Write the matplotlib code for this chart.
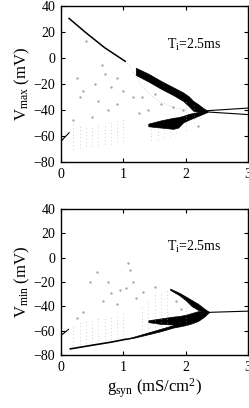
import numpy as np
import matplotlib
matplotlib.use("Agg")
import matplotlib.pyplot as plt

plt.rcParams['font.family'] = ['Liberation Serif', 'DejaVu Serif']
plt.rcParams['mathtext.fontset'] = 'custom'
plt.rcParams['mathtext.rm'] = 'Liberation Serif'
plt.rcParams['mathtext.it'] = 'Liberation Serif'

# ---------------- V_max panel data ----------------
max_line_g = [0.13, 0.4, 0.7, 1.03]
max_line_v = [30.5, 19.5, 8.0, -2.5]
max_stub_g = [0.0, 0.13]
max_stub_v = [-64.0, -57.5]

max_band_g = [1.2, 1.4, 1.6, 1.8, 1.96, 2.05, 2.12, 2.2, 2.28, 2.35]
max_band_hi = [-7.5, -12.0, -17.5, -22.5, -26.5, -29.5, -33.0, -35.5, -38.5, -40.5]
max_band_lo = [-13.0, -18.0, -23.5, -28.5, -33.0, -37.0, -40.5, -41.5, -41.5, -41.0]

max_body_g = [1.4, 1.6, 1.8, 1.88, 1.96, 2.05, 2.15, 2.25, 2.35]
max_body_hi = [-50.5, -48.0, -46.0, -45.5, -44.5, -43.0, -42.0, -41.5, -41.0]
max_body_lo = [-52.5, -53.5, -54.5, -53.5, -49.5, -47.5, -45.5, -43.5, -41.5]

max_tail_g = [2.35, 3.0]
max_tail_hi = [-40.5, -38.5]
max_tail_lo = [-41.5, -43.5]

max_faint_g = [1.03, 1.1, 1.2, 1.3, 1.45, 1.6, 1.8, 2.0]
max_faint_v = [-2.5, -6.0, -14.0, -22.0, -29.0, -34.0, -38.0, -40.0]

max_col_g = [0.2, 0.3, 0.4, 0.5, 0.6, 0.7, 0.8, 0.9, 1.0,
             1.45, 1.55, 1.65, 1.75, 1.85, 2.0, 2.13]
max_col_lo = [-70, -69, -68, -68, -67, -66, -66, -65, -64,
              -63, -62, -61, -60, -58, -55, -50]
max_col_hi = [-51, -52, -53, -52, -51, -50, -49, -48, -47,
              -53, -54, -54, -55, -55, -33, -36]

max_dot_g = [0.4, 0.35, 0.55, 0.7, 0.8, 0.9, 0.6, 0.75, 1.0, 0.9, 0.3, 0.5,
             0.2, 1.3, 1.5, 1.6, 1.4, 1.8, 1.95, 2.2, 0.25, 0.65, 1.15, 1.25]
max_dot_v = [13, -25, -20, -12, -22, -15, -33, -40, -25, -35, -30, -45,
             -48, -30, -28, -35, -40, -38, -40, -52, -15, -5, -30, -42]

# ---------------- V_min panel data ----------------
min_line_g = [0.15, 0.5, 0.8, 1.05]
min_line_v = [-75.0, -72.0, -69.5, -67.0]
min_stub_g = [0.0, 0.12]
min_stub_v = [-64.0, -59.0]

min_band_g = [1.05, 1.2, 1.4, 1.6, 1.8, 1.9]
min_band_lo = [-67.0, -65.5, -63.0, -60.5, -57.5, -56.5]
min_band_hi = [-66.5, -64.5, -61.5, -58.5, -55.5, -54.0]

min_body_g = [1.4, 1.6, 1.8, 1.9, 2.0, 2.1, 2.2, 2.3, 2.37]
min_body_lo = [-53.0, -54.5, -55.0, -56.5, -55.5, -54.0, -52.0, -48.5, -45.0]
min_body_hi = [-51.5, -50.0, -48.5, -48.0, -47.0, -45.5, -44.0, -44.0, -44.5]

min_arm_g = [1.75, 1.9, 2.0, 2.1, 2.2, 2.3, 2.37]
min_arm_hi = [-25.5, -29.0, -32.0, -35.0, -38.0, -42.0, -44.5]
min_arm_lo = [-26.5, -31.0, -35.0, -40.0, -43.0, -44.5, -45.0]

min_tail_g = [2.37, 3.0]
min_tail_v = [-45.0, -44.0]

min_col_g = [0.2, 0.3, 0.4, 0.5, 0.6, 0.7, 0.8, 0.9, 1.0,
             1.3, 1.4, 1.5, 1.6, 1.7, 2.0]
min_col_lo = [-72, -71, -70, -69, -68, -68, -67, -66, -66,
              -62, -58, -57, -56, -54, -55]
min_col_hi = [-55, -53, -52, -51, -50, -49, -48, -47, -45,
              -40, -35, -28, -30, -27, -38]

min_dot_g = [0.57, 0.47, 0.68, 0.81, 0.95, 1.05, 1.32, 1.51, 1.08, 1.1,
             0.35, 0.9, 0.75, 1.2, 1.85, 1.92, 0.25, 1.15]
min_dot_v = [-11.5, -19.7, -36, -29, -27, -25, -28, -24, -4.6, -10,
             -45, -38, -20, -33, -36, -42, -50, -20]

ti_label = r'T$_\mathrm{i}$=2.5ms'


def style_axes(ax):
    ax.set_xlim(0, 3)
    ax.set_ylim(-80, 40)
    ax.set_xticks([0, 1, 2, 3])
    ax.set_yticks([-80, -60, -40, -20, 0, 20, 40])
    ax.tick_params(direction='in', top=True, right=True, length=3,
                   width=0.8, labelsize=10, pad=4)
    for s in ax.spines.values():
        s.set_linewidth(1.0)


fig = plt.figure(figsize=(2.49, 4.08), dpi=100)
ax1 = fig.add_axes([0.245, 0.603, 0.751, 0.382])
ax2 = fig.add_axes([0.245, 0.130, 0.751, 0.358])

grey = '#a8a8a8'
dots = (0, (1, 4))

# top panel
ax1.vlines(max_col_g, max_col_lo, max_col_hi, colors=grey, linewidth=0.5,
           linestyles=dots)
ax1.plot(max_faint_g, max_faint_v, color=grey, lw=0.5, ls=(0, (1, 3)))
ax1.plot(max_dot_g, max_dot_v, ls='none', marker='s', ms=0.7, color=grey)
ax1.plot(max_line_g, max_line_v, color='k', lw=1.1)
ax1.plot(max_stub_g, max_stub_v, color='k', lw=0.8)
ax1.fill_between(max_band_g, max_band_lo, max_band_hi, color='k', lw=0.5)
ax1.fill_between(max_body_g, max_body_lo, max_body_hi, color='k', lw=0.5)
ax1.plot(max_tail_g, max_tail_hi, color='k', lw=0.8)
ax1.plot(max_tail_g, max_tail_lo, color='k', lw=0.8)
ax1.text(1.7, 10, ti_label, fontsize=10, va='center')
style_axes(ax1)
ax1.set_ylabel(r'V$_\mathrm{max}$ (mV)', fontsize=12, labelpad=1)

# bottom panel
ax2.vlines(min_col_g, min_col_lo, min_col_hi, colors=grey, linewidth=0.5,
           linestyles=dots)
ax2.plot(min_dot_g, min_dot_v, ls='none', marker='s', ms=0.7, color=grey)
ax2.plot(min_line_g, min_line_v, color='k', lw=1.2)
ax2.plot(min_stub_g, min_stub_v, color='k', lw=0.8)
ax2.fill_between(min_band_g, min_band_lo, min_band_hi, color='k', lw=0.5)
ax2.fill_between(min_body_g, min_body_lo, min_body_hi, color='k', lw=0.5)
ax2.fill_between(min_arm_g, min_arm_lo, min_arm_hi, color='k', lw=0.5)
ax2.plot(min_tail_g, min_tail_v, color='k', lw=0.8)
ax2.text(1.7, 9, ti_label, fontsize=10, va='center')
style_axes(ax2)
ax2.set_ylabel(r'V$_\mathrm{min}$ (mV)', fontsize=12, labelpad=1)
ax2.set_xlabel(r'g$_\mathrm{syn}$ (mS/cm$^2$)', fontsize=12, labelpad=2)

fig.savefig('out.png', dpi=100)
